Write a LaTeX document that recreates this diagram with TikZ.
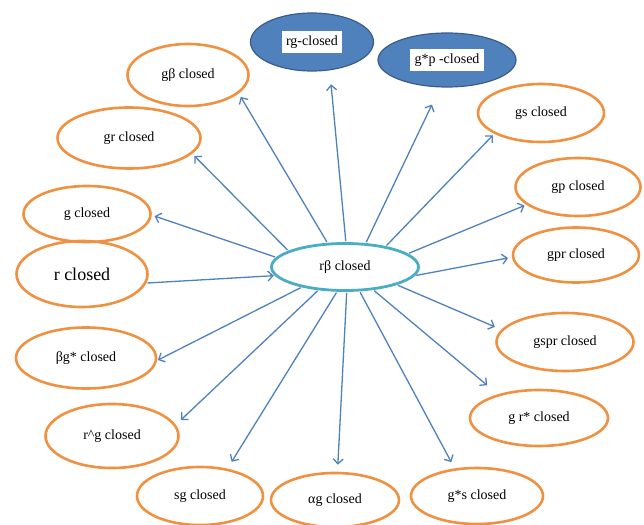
\documentclass[tikz,border=0pt]{standalone}
\usepackage{fontspec}
\setmainfont{Liberation Serif}
\usetikzlibrary{shapes.geometric, arrows.meta}
\definecolor{setorange}{RGB}{240,145,65}
\definecolor{setteal}{RGB}{75,172,198}
\definecolor{setblue}{RGB}{79,129,189}
\definecolor{setblueedge}{RGB}{56,93,138}
\tikzstyle{closedset} = [ellipse, minimum width=128pt, minimum height=56pt,
    text centered, draw=setorange, line width=2.6pt, font=\fontsize{14}{16}\selectfont]
\tikzstyle{mainset} = [ellipse, minimum width=147pt, minimum height=47pt,
    text centered, draw=setteal, line width=2.8pt, font=\fontsize{14}{16}\selectfont]
\tikzstyle{darkset} = [ellipse, minimum width=123pt, minimum height=58pt,
    text centered, draw=setblueedge, fill=setblue, line width=1.2pt,
    font=\fontsize{14}{16}\selectfont]
\tikzstyle{arrow} = [draw=setblue, line width=1.3pt, shorten <=1pt,
    -{Straight Barb[length=5pt,width=10pt]}]
\setlength{\fboxsep}{4.5pt}

\begin{document}
\begin{tikzpicture}[x=1pt, y=-1pt]
\useasboundingbox (0,0) rectangle (644,524);

% Nodes
\node (rb) [mainset] at (345,267) {rβ closed};
\node (rg) [darkset] at (312,42) {\colorbox{white}{rg-closed}};
\node (gsp) [darkset, minimum width=138pt, minimum height=54pt] at (447,60) {\colorbox{white}{g*p -closed}};
\node (gs) [closedset, minimum width=126pt, minimum height=58pt] at (541,113) {gs closed};
\node (gp) [closedset, minimum width=125pt, minimum height=58pt] at (578,187) {gp closed};
\node (gpr) [closedset, minimum width=126pt, minimum height=55pt] at (576,255) {gpr closed};
\node (gspr) [closedset, minimum width=137pt, minimum height=58pt] at (565,342) {gspr closed};
\node (grs) [closedset, minimum width=138pt] at (539,418) {g r* closed};
\node (gss) [closedset, minimum width=132pt] at (477,496) {g*s closed};
\node (ag) [closedset, minimum height=54pt] at (335,500) {αg closed};
\node (sg) [closedset, minimum width=126pt, minimum height=58pt] at (200,496) {sg closed};
\node (rhg) [closedset, minimum width=133pt, minimum height=64pt] at (112,436) {r\textasciicircum g closed};
\node (bgs) [closedset, minimum width=140pt, minimum height=61pt] at (86,358) {βg* closed};
\node (r) [closedset, minimum width=131pt, minimum height=66pt, font=\fontsize{18}{20}\selectfont] at (82,274) {r closed};
\node (g) [closedset, minimum width=127pt] at (87,214) {g closed};
\node (gr) [closedset, minimum width=143pt, minimum height=61pt] at (129,138) {gr closed};
\node (gb) [closedset, minimum width=121pt, minimum height=62pt] at (188,75) {gβ closed};

% Arrows
\draw [arrow, shorten >=14pt] (rb.88) -- (rg.302);
\draw [arrow, shorten >=19pt] (rb.49) -- (gsp.256);
\draw [arrow, shorten >=2pt] (rb.27) -- (gs.204);
\draw [arrow, shorten >=2pt] (rb.12) -- (gp.199);
\draw [arrow, shorten >=4pt] (rb.353) -- (gpr.182);
\draw [arrow, shorten >=7pt] (rb.341) -- (gspr.169);
\draw [arrow, shorten >=14pt] (rb.321) -- (grs.150);
\draw [arrow, shorten >=7pt] (rb.301) -- (gss.129);
\draw [arrow, shorten >=7pt] (rb.274) -- (ag.85);
\draw [arrow, shorten >=8pt] (rb.252) -- (sg.45);
\draw [arrow, shorten >=7pt] (rb.221) -- (rhg.10);
\draw [arrow, shorten >=1pt] (rb.205) -- (bgs.358);
\draw [arrow, shorten >=1pt] (r.352) -- (rb.187);
\draw [arrow, shorten >=3pt] (rb.172) -- (g.359);
\draw [arrow, shorten >=3pt] (rb.164) -- (gr.346);
\draw [arrow, shorten >=4pt] (rb.126) -- (gb.340);

\end{tikzpicture}
\end{document}
